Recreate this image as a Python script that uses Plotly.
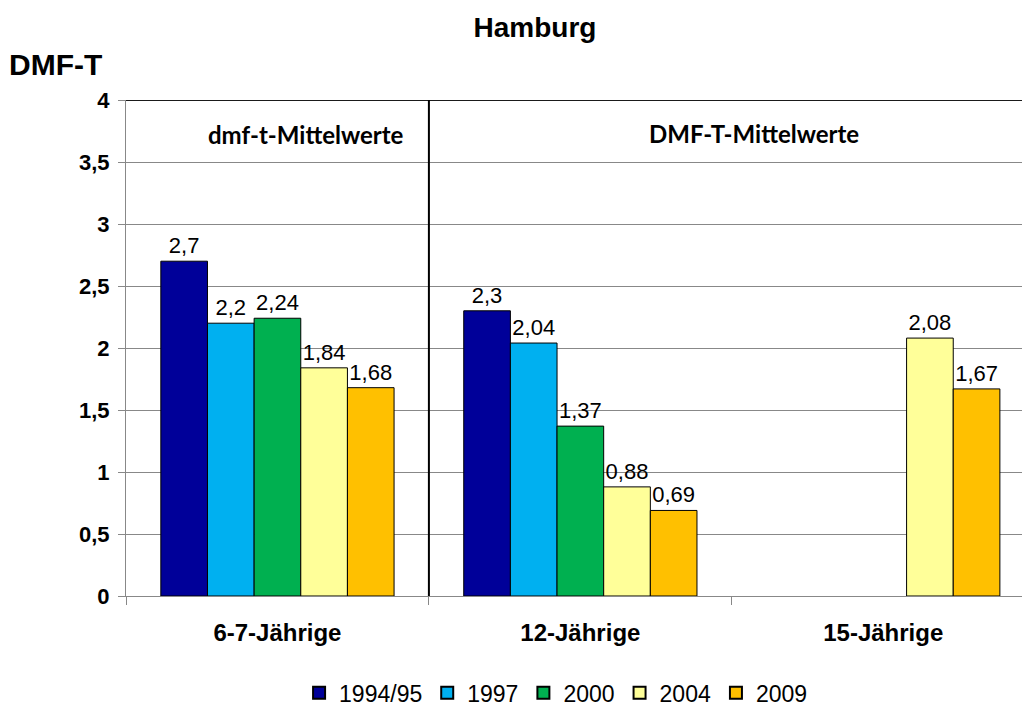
import plotly.graph_objects as go

categories = ["6-7-Jährige", "12-Jährige", "15-Jährige"]
series_names = ["1994/95", "1997", "2000", "2004", "2009"]
values_1994 = [2.7, 2.3, None]
values_1997 = [2.2, 2.04, None]
values_2000 = [2.24, 1.37, None]
values_2004 = [1.84, 0.88, 2.08]
values_2009 = [1.68, 0.69, 1.67]
colors = ["#000099", "#00B0F0", "#00B050", "#FFFF99", "#FFC000"]
y_ticks = [0, 0.5, 1, 1.5, 2, 2.5, 3, 3.5, 4]

all_values = [values_1994, values_1997, values_2000, values_2004, values_2009]

def fmt(v):
    if v is None:
        return ""
    return ("%g" % v).replace(".", ",")

FONT = "Liberation Sans, Arial, sans-serif"
CAL = "Lato, Open Sans, sans-serif"

fig = go.Figure()
for name, vals, col in zip(series_names, all_values, colors):
    fig.add_trace(go.Bar(
        name=name, x=categories, y=vals,
        marker=dict(color=col, line=dict(color="#000000", width=1)),
        text=[fmt(v) for v in vals], textposition="outside",
        textfont=dict(family=FONT, size=22, color="#000000"),
        cliponaxis=False,
    ))

fig.update_layout(
    width=1022, height=709,
    paper_bgcolor="white", plot_bgcolor="white",
    barmode="group", bargap=0.23, bargroupgap=0,
    separators=",.",
    margin=dict(l=126, r=0, t=100, b=113, autoexpand=False),
    title=dict(text="<b>Hamburg</b>", x=0.5235, xanchor="center", y=0.962, yanchor="middle",
               font=dict(family=FONT, size=28, color="#000000")),
    showlegend=True,
    legend=dict(orientation="h", x=0.48, xanchor="center", y=-0.195, yanchor="middle",
                font=dict(family=FONT, size=23, color="#000000"),
                itemsizing="constant", traceorder="normal", itemwidth=30),
    xaxis=dict(type="category", range=[-0.5, 2.458], tickson="boundaries",
               ticks="outside", ticklen=8, tickcolor="#888888",
               showline=True, linecolor="#888888", linewidth=1,
               showgrid=False,
               tickfont=dict(family=FONT, size=24, color="#000000"),
               ticklabelstandoff=15),
    yaxis=dict(range=[0, 4], tickvals=y_ticks, ticks="outside", ticklen=7, tickcolor="#888888",
               showline=True, linecolor="#888888", linewidth=1,
               showgrid=True, gridcolor="#888888", gridwidth=1, zeroline=False,
               tickfont=dict(family=FONT, size=22, color="#000000"),
               ticklabelstandoff=4),
)
fig.update_xaxes(ticktext=[f"<b>{c}</b>" for c in categories], tickvals=categories)
fig.update_yaxes(ticktext=[f"<b>{fmt(t)}</b>" for t in y_ticks])

# top border and separator
fig.add_shape(type="line", xref="paper", yref="y", x0=0, x1=1, y0=4, y1=4,
              line=dict(color="#1a1a1a", width=2))
fig.add_shape(type="line", xref="x", yref="y", x0=0.5, x1=0.5, y0=-0.04, y1=4,
              line=dict(color="#000000", width=2))

fig.add_annotation(text="<b>DMF-T</b>", xref="paper", yref="paper", x=-0.133, y=1.072,
                   xanchor="left", yanchor="middle", showarrow=False,
                   font=dict(family=FONT, size=30, color="#000000"))
fig.add_annotation(text="<b>dmf-t-Mittelwerte</b>", xref="x", yref="y", x=0.095, y=3.72,
                   showarrow=False, font=dict(family=CAL, size=24, color="#000000"))
fig.add_annotation(text="<b>DMF-T-Mittelwerte</b>", xref="x", yref="y", x=1.572, y=3.73,
                   showarrow=False, font=dict(family=CAL, size=24, color="#000000"))

fig.write_html("out.html", config={"displayModeBar": False},
               post_script="document.body.style.margin='0';document.body.style.padding='0';")
